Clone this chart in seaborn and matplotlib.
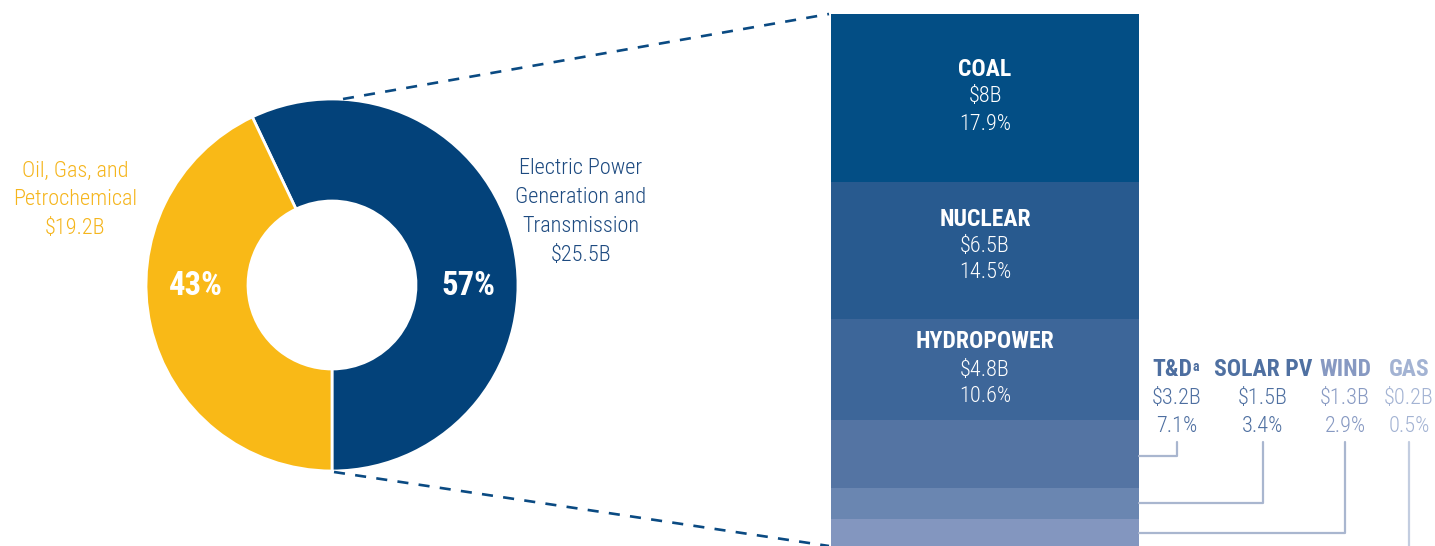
import matplotlib
matplotlib.use("Agg")
import matplotlib.pyplot as plt
from matplotlib import font_manager as fm
import seaborn as sns
import numpy as np

sns.set_theme(style="white")

# pick a condensed font if one is installed
_entries = [(f.name, f.stretch) for f in fm.fontManager.ttflist]
_names = {n for n, s in _entries}
FAM, STR = "Roboto", "normal"
if "Roboto Condensed" in _names:
    FAM, STR = "Roboto Condensed", "normal"
elif "Liberation Sans Narrow" in _names:
    FAM, STR = "Liberation Sans Narrow", "normal"
elif any(n == "Roboto" and s in ("condensed", "semi-condensed") for n, s in _entries):
    FAM, STR = "Roboto", "condensed"
elif any(n == "Noto Sans" and s in ("condensed", "semi-condensed", "extra-condensed") for n, s in _entries):
    FAM, STR = "Noto Sans", "condensed"
elif any(n == "DejaVu Sans" and s in ("condensed", "semi-condensed") for n, s in _entries):
    FAM, STR = "DejaVu Sans", "condensed"
plt.rcParams['font.family'] = [FAM, 'DejaVu Sans']
plt.rcParams['font.stretch'] = STR
LIGHT = "light"

# ---- data ----
donut_labels = ["Electric Power\nGeneration and\nTransmission", "Oil, Gas, and\nPetrochemical"]
donut_values = [25.5, 19.2]
donut_value_labels = ["$25.5B", "$19.2B"]
donut_pcts = ["57%", "43%"]
donut_colors = ["#03427a", "#f9b917"]

bar_names = ["COAL", "NUCLEAR", "HYDROPOWER", "T&D", "SOLAR PV", "WIND", "GAS"]
bar_values = [8.0, 6.5, 4.8, 3.2, 1.5, 1.3, 0.2]
bar_value_labels = ["$8B", "$6.5B", "$4.8B", "$3.2B", "$1.5B", "$1.3B", "$0.2B"]
bar_pct_labels = ["17.9%", "14.5%", "10.6%", "7.1%", "3.4%", "2.9%", "0.5%"]
bar_colors = ["#034e85", "#285a8f", "#3d6699", "#5474a3", "#6a86b1", "#8396bf", "#a3b3d3"]

W, H = 1435, 546
fig = plt.figure(figsize=(W / 100, H / 100), dpi=100)

# stacked bar axes (below the overlay)
bx0, bx1, btop = 831, 1139, 14
ax2 = fig.add_axes([bx0 / W, 0, (bx1 - bx0) / W, (H - btop) / H])
px_per_unit = 21.05
bottoms = np.concatenate([[0], np.cumsum(bar_values)[:-1]])
ax2.bar(np.zeros(len(bar_values)), bar_values, bottom=bottoms, width=1.0,
        color=bar_colors, linewidth=0, align="center")
ax2.set_xlim(-0.5, 0.5)
ax2.set_ylim((H - btop) / px_per_unit, 0)
ax2.axis("off")
ax2.set_zorder(0)

# main overlay axes in pixel coordinates
ax = fig.add_axes([0, 0, 1, 1])
ax.set_zorder(1)
ax.patch.set_alpha(0)
cx, cy, R = 332, 285, 186
ax.pie(donut_values, colors=donut_colors, startangle=90, counterclock=False,
       center=(cx, cy), radius=R,
       wedgeprops=dict(width=R - 84, edgecolor="white", linewidth=2))
ax.set_xlim(0, W)
ax.set_ylim(H, 0)
ax.set_aspect("equal")
ax.axis("off")

# donut percentages
ax.text(468, 286, donut_pcts[0], color="white", fontsize=23.5, fontweight="bold", ha="center", va="center")
ax.text(196, 286, donut_pcts[1], color="white", fontsize=23.5, fontweight="bold", ha="center", va="center")

# donut labels
for i, line in enumerate(donut_labels[0].split("\n") + [donut_value_labels[0]]):
    ax.text(581, 169 + i * 28.7, line, color="#1d4a80", fontsize=16, fontweight=LIGHT, ha="center", va="center")
for i, line in enumerate(donut_labels[1].split("\n") + [donut_value_labels[1]]):
    ax.text(75, 171 + i * 28.5, line, color="#f5b51c", fontsize=16, fontweight=LIGHT, ha="center", va="center")

# dashed connector lines
ax.plot([343, 829], [99, 14], color="#0a4a82", lw=1.9, dashes=(4.2, 3.9), solid_capstyle="butt")
ax.plot([334, 829], [472, 546], color="#0a4a82", lw=1.9, dashes=(4.2, 3.9), solid_capstyle="butt")

# text in big segments
seg_text_y = [(69, 97, 124), (219, 247, 273), (342, 370, 396)]
for i in range(3):
    ty, vy, py = seg_text_y[i]
    ax.text(985, ty, bar_names[i], color="white", fontsize=17, fontweight="bold", ha="center", va="center")
    ax.text(985, vy, bar_value_labels[i], color="white", fontsize=16, fontweight=LIGHT, ha="center", va="center")
    ax.text(985, py, bar_pct_labels[i], color="white", fontsize=16, fontweight=LIGHT, ha="center", va="center")

# small segment labels
small_x = [1177, 1263, 1345, 1409]
small_colors = ["#4d6ea0", "#4f70a1", "#8799c2", "#a3b3d3"]
line_y = [456, 503, 533, None]
for j, i in enumerate(range(3, 7)):
    x = small_x[j]
    c = small_colors[j]
    if bar_names[i] == "T&D":
        t = ax.text(x - 5, 370, "T&D", color=c, fontsize=17, fontweight="bold", ha="center", va="center")
        ax.annotate("a", xy=(1, 1), xycoords=t, xytext=(0.5, -1), textcoords="offset points",
                    color=c, fontsize=10, fontweight="bold", ha="left", va="top")
    else:
        ax.text(x, 370, bar_names[i], color=c, fontsize=17, fontweight="bold", ha="center", va="center")
    ax.text(x, 398, bar_value_labels[i], color=c, fontsize=16, fontweight=LIGHT, ha="center", va="center")
    ax.text(x, 426, bar_pct_labels[i], color=c, fontsize=16, fontweight=LIGHT, ha="center", va="center")
    ly = line_y[j]
    if ly is not None:
        ax.plot([bx1, x, x], [ly, ly, 442], color="#a9b6cf", lw=1.6)
    else:
        ax.plot([x, x], [442, 560], color="#c3cde0", lw=1.6)

fig.savefig("out.png", dpi=100)
